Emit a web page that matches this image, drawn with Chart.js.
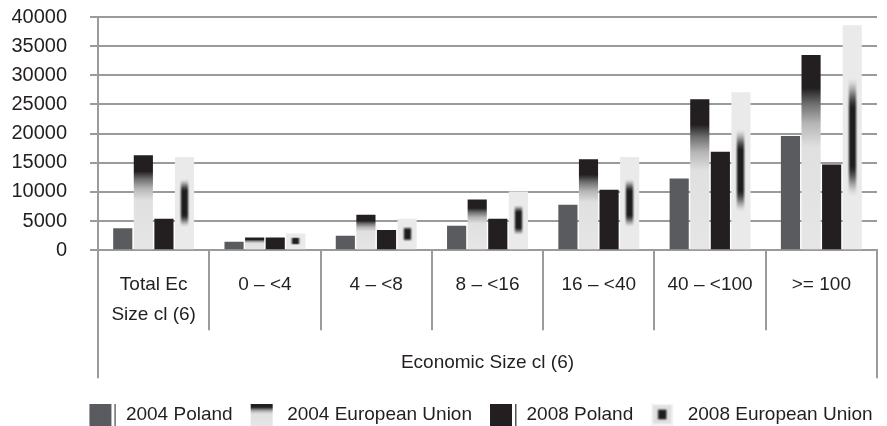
<!DOCTYPE html>
<html lang="en">
<head>
<meta charset="UTF-8" />
<title>Economic Size cl (6)</title>
<script src="https://cdn.jsdelivr.net/npm/chart.js"></script>
<style>
  html, body { margin: 0; padding: 0; background: #fff; }
</style>
</head>
<body>
<canvas id="sizeChart" width="887" height="426"></canvas>
<script>
const categories = [["Total Ec", "Size cl (6)"], "0 – <4", "4 – <8", "8 – <16", "16 – <40", "40 – <100", ">= 100"];
const groupTitle = "Economic Size cl (6)";
const seriesNames = ["2004 Poland", "2004 European Union", "2008 Poland", "2008 European Union"];
const poland2004 = [3800, 1450, 2500, 4200, 7800, 12300, 19600];
const eu2004 = [16300, 2200, 6100, 8700, 15600, 25900, 33500];
const poland2008 = [5400, 2200, 3500, 5400, 10400, 16900, 14700];
const eu2008 = [16000, 2900, 5400, 10100, 16000, 27100, 38600];
const yTicks = [0, 5000, 10000, 15000, 20000, 25000, 30000, 35000, 40000];

const TEXT = "#231f20";
const GRID = "#9b9b9b";
const DARK = "#231f20";
const MIDGRAY = "#5a5b5e";
const LIGHT = "#e8e8e8";

Chart.defaults.font.family = "'Liberation Sans', Arial, sans-serif";
Chart.defaults.font.size = 19;
Chart.defaults.color = TEXT;

// labels sit outside the axis box here, so don't clip them to it
const noLabelClip = s => { s._computeLabelArea = () => null; };

// vertical fade: dark cap at the top of the bar, light below
function capGradient(ctx, top, base) {
  const g = ctx.createLinearGradient(0, top, 0, base);
  g.addColorStop(0, DARK);
  g.addColorStop(0.17, DARK);
  g.addColorStop(0.25, "#6e6e6e");
  g.addColorStop(0.35, "#b5b5b5");
  g.addColorStop(0.47, "#e0e0e0");
  g.addColorStop(1, "#e6e6e6");
  return g;
}

function eu2004Fill(context) {
  const chart = context.chart;
  if (!chart.chartArea) return LIGHT;
  const y = chart.scales.y;
  return capGradient(chart.ctx, y.getPixelForValue(context.raw), y.getPixelForValue(0));
}

function smooth(t) {
  t = Math.min(1, Math.max(0, t));
  return t * t * (3 - 2 * t);
}

// dark blurred core in the middle of a light block
function coreCanvas(w, h, ux0, ux1, vy0, vy1) {
  const c = document.createElement("canvas");
  c.width = w; c.height = h;
  const cx = c.getContext("2d");
  const img = cx.createImageData(w, h);
  for (let j = 0; j < h; j++) {
    const dv = Math.abs((j + 0.5) / h - 0.5);
    const gy = 1 - smooth((dv - vy0) / (vy1 - vy0));
    for (let i = 0; i < w; i++) {
      const du = Math.abs((i + 0.5) / w - 0.5);
      const gx = 1 - smooth((du - ux0) / (ux1 - ux0));
      const k = (j * w + i) * 4;
      img.data[k] = 30; img.data[k + 1] = 28; img.data[k + 2] = 29;
      img.data[k + 3] = Math.round(255 * gx * gy);
    }
  }
  cx.putImageData(img, 0, 0);
  return c;
}

const coreShading = {
  id: "coreShading",
  afterDatasetDraw(chart, args) {
    if (args.index !== 3) return;
    const ctx = chart.ctx;
    args.meta.data.forEach(bar => {
      const p = bar.getProps(["x", "y", "base", "width"], true);
      const w = Math.max(1, Math.round(p.width));
      const h = Math.max(1, Math.round(p.base - p.y));
      ctx.drawImage(coreCanvas(w, h, 0.08, 0.3, 0.12, 0.27), Math.round(p.x - w / 2), Math.round(p.y));
    });
  }
};

// legend icons
function legendIcon(kind) {
  const c = document.createElement("canvas");
  c.width = 36; c.height = 22;
  const g = c.getContext("2d");
  if (kind === 0 || kind === 2) {
    g.fillStyle = kind === 0 ? MIDGRAY : DARK;
    g.fillRect(9, 0, 22, 22);
    g.fillStyle = "#555";
    g.fillRect(34, 0, 1.5, 22);
  } else if (kind === 1) {
    g.fillStyle = capGradient(g, 0, 22);
    g.fillRect(9, 0, 22, 22);
  } else {
    g.fillStyle = "#f2f2f2";
    g.fillRect(9, 0, 22, 22);
    g.fillStyle = "#e0e0e0";
    g.fillRect(11, 2, 18, 18);
    g.drawImage(coreCanvas(22, 22, 0.1, 0.28, 0.14, 0.3), 9, 0);
  }
  return c;
}
const legendIcons = [0, 1, 2, 3].map(legendIcon);

new Chart(document.getElementById("sizeChart"), {
  type: "bar",
  data: {
    labels: categories,
    datasets: [
      { label: seriesNames[0], data: poland2004, backgroundColor: MIDGRAY },
      { label: seriesNames[1], data: eu2004, backgroundColor: eu2004Fill },
      { label: seriesNames[2], data: poland2008, backgroundColor: DARK },
      { label: seriesNames[3], data: eu2008, backgroundColor: "#eaeaea" }
    ]
  },
  options: {
    responsive: false,
    animation: false,
    devicePixelRatio: 1,
    categoryPercentage: 0.74,
    barPercentage: 0.93,
    layout: { padding: { top: 17, left: 66, right: 0, bottom: -8 } },
    scales: {
      y: {
        min: 0,
        max: 40000,
        afterFit: s => {
          s.width = 32;
          s.paddingTop = 12;
          s.paddingBottom = 12;
          noLabelClip(s);
        },
        afterBuildTicks: s => { s.ticks = yTicks.map(v => ({ value: v })); },
        ticks: { autoSkip: false, font: { size: 20 }, padding: 23, callback: v => String(v) },
        grid: { color: GRID, lineWidth: 2, tickLength: 8 },
        border: { color: GRID, width: 2 }
      },
      yr: {
        position: "right",
        afterFit: s => { s.width = 10; },
        grid: { display: false },
        border: { display: false },
        ticks: { display: false }
      },
      x: {
        afterFit: noLabelClip,
        grid: { offset: true, drawOnChartArea: false, color: GRID, lineWidth: 2, tickLength: 80 },
        border: { color: GRID, width: 2 },
        ticks: { autoSkip: false, maxRotation: 0, padding: -60, font: { size: 19, lineHeight: 1.55 } }
      },
      x2: {
        type: "category",
        labels: [groupTitle],
        position: "bottom",
        weight: 1,
        offset: true,
        grid: { offset: true, drawOnChartArea: false, color: GRID, lineWidth: 2, tickLength: 109 },
        border: { display: false },
        ticks: { display: false },
        title: {
          display: true,
          text: groupTitle,
          color: TEXT,
          font: { size: 19, lineHeight: 1.2 },
          padding: { top: -27, bottom: 22 }
        }
      }
    },
    plugins: {
      tooltip: { enabled: false },
      legend: {
        position: "bottom",
        labels: {
          usePointStyle: true,
          pointStyleWidth: 36,
          padding: 9,
          color: TEXT,
          font: { size: 19 },
          generateLabels: () => seriesNames.map((name, i) => ({
            text: name,
            pointStyle: legendIcons[i],
            datasetIndex: i,
            hidden: false,
            lineWidth: 0,
            fillStyle: "transparent",
            strokeStyle: "transparent",
            fontColor: TEXT
          }))
        }
      }
    }
  },
  plugins: [coreShading]
});
</script>
</body>
</html>
